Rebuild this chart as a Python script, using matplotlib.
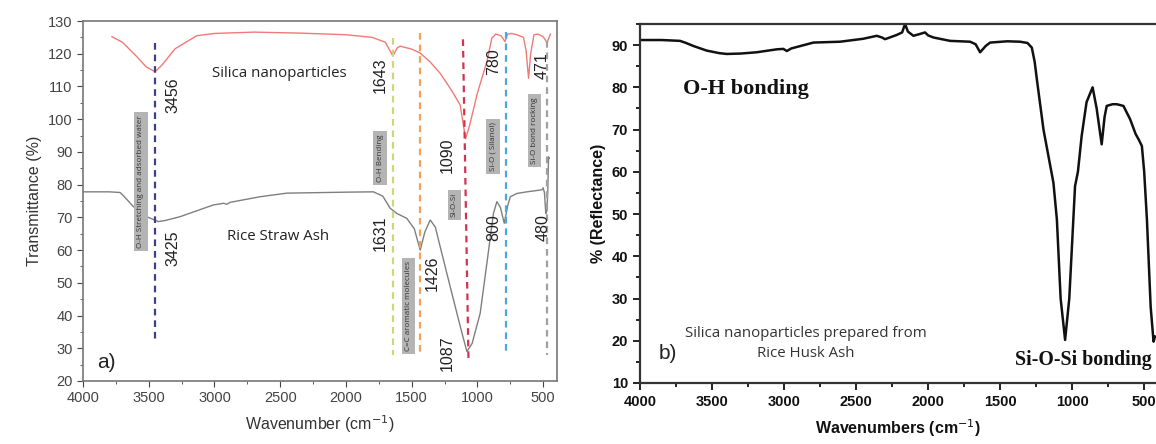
import matplotlib
matplotlib.use('Agg')
import matplotlib.pyplot as plt
from matplotlib.ticker import MultipleLocator

# ---- panel a) FTIR of silica nanoparticles and rice straw ash ----
silica_wn = [3780, 3700, 3600, 3520, 3452, 3400, 3300, 3135, 3000, 2700, 2349, 2000, 1800,
             1700, 1643, 1610, 1587, 1500, 1435, 1360, 1283, 1200, 1131, 1090, 1060, 1000,
             928, 890, 860, 820, 790, 770, 740, 700, 650, 630, 611, 595, 570, 540, 500,
             480, 471, 460, 445]
silica_t = [125.2, 123.5, 119.5, 116.0, 114.5, 116.5, 121.5, 125.5, 126.2, 126.6, 126.3, 125.8,
            125.0, 123.5, 119.3, 121.8, 122.3, 121.4, 120.2, 117.5, 114.0, 109.0, 104.3, 94.0,
            98.0, 108.0, 117.6, 124.8, 126.0, 125.5, 123.7, 126.0, 126.2, 125.8, 125.0, 121.0,
            112.5, 120.0, 125.8, 126.0, 125.2, 124.0, 123.3, 124.5, 126.0]

ash_wn = [4000, 3800, 3718, 3690, 3617, 3515, 3427, 3380, 3262, 3100, 3008, 2930, 2906, 2880,
          2653, 2450, 2000, 1791, 1720, 1664, 1613, 1537, 1480, 1435, 1400, 1359, 1320, 1283,
          1207, 1156, 1110, 1080, 1040, 979, 928, 878, 852, 825, 796, 770, 750, 700, 624, 510,
          500, 490, 480, 471, 465, 459, 455]
ash_t = [77.8, 77.8, 77.6, 76.5, 73.3, 70.2, 68.7, 69.0, 70.2, 72.5, 73.8, 74.3, 74.0, 74.6,
         76.3, 77.4, 77.7, 77.8, 76.5, 72.8, 71.2, 69.7, 66.5, 60.0, 65.5, 69.2, 67.0, 61.0,
         48.8, 40.7, 33.5, 29.0, 31.5, 40.7, 56.0, 71.2, 74.8, 73.0, 68.2, 73.5, 76.3, 77.3, 77.8,
         78.4, 79.0, 77.5, 71.2, 72.0, 78.0, 88.5, 88.0]

# peak marker lines: (wavenumber top, wavenumber bottom, top value, bottom value, colour)
peak_lines = [(3456, 3456, 123.4, 32.0, '#3c3f8c'),
              (1643, 1643, 124.8, 28.0, '#cfd67a'),
              (1435, 1435, 126.4, 28.0, '#f4a15a'),
              (1110, 1068, 124.4, 26.5, '#d2334f'),
              (785, 785, 126.6, 28.0, '#4aa8de'),
              (471, 471, 124.0, 28.0, '#a0a0a0')]

peak_numbers = ['3456', '3425', '1643', '1631', '1426', '1090', '1087', '780', '800', '471', '480']
peak_num_x = [3313, 3313, 1740, 1740, 1346, 1232, 1232, 878, 878, 510, 497]
peak_num_y = [107.4, 60.6, 113.5, 65.2, 53.0, 89.0, 28.5, 117.6, 67.0, 116.5, 67.0]

band_names = ['O-H Stretching and adsorbed water', 'O-H Bending', 'C=C aromatic molecules',
              'Si-O-Si', 'Si-O ( Silanol)', 'Si-O bond rocking']
band_x = [3559, 1740, 1524, 1174, 882, 567]
band_y = [81.0, 88.0, 43.0, 73.8, 91.6, 96.4]

# ---- panel b) silica from rice husk ash ----
husk_wn = [4000, 3850, 3722, 3680, 3630, 3537, 3450, 3398, 3300, 3190, 3050, 3005, 2980, 2950,
           2796, 2611, 2450, 2356, 2320, 2299, 2250, 2218, 2180, 2160, 2140, 2102, 2060, 2021,
           2000, 1963, 1847, 1708, 1670, 1639, 1600, 1569, 1450, 1361, 1310, 1280, 1260, 1245,
           1199, 1130, 1106, 1080, 1049, 1020, 980, 960, 934, 900, 858, 830, 795, 775, 760, 720,
           690, 644, 597, 560, 539, 516, 500, 481, 455, 435, 425]
husk_r = [91.2, 91.2, 91.0, 90.5, 89.8, 88.7, 88.1, 87.9, 88.0, 88.3, 89.0, 89.1, 88.6, 89.2,
          90.6, 90.8, 91.5, 92.2, 91.8, 91.4, 92.0, 92.4, 93.0, 95.0, 93.2, 92.2, 92.6, 93.0, 92.3,
          91.8, 91.0, 90.8, 90.2, 88.3, 89.8, 90.6, 90.9, 90.8, 90.5, 89.4, 86.0, 81.9, 70.0,
          57.4, 48.7, 30.0, 20.2, 30.0, 56.6, 60.0, 68.5, 76.5, 80.0, 75.0, 66.5, 73.0, 75.6, 76.0,
          76.0, 75.6, 72.4, 69.0, 67.7, 66.1, 60.0, 48.7, 28.0, 19.8, 21.0]

fig = plt.figure(figsize=(11.56, 4.44), dpi=100)

# ---------------- panel a ----------------
ax1 = fig.add_axes([0.0718, 0.1419, 0.41, 0.8108])
tick_col = '#444444'
ax1.plot(silica_wn, silica_t, color='#f07a78', linewidth=1.0)
ax1.plot(ash_wn, ash_t, color='#7f7f7f', linewidth=1.0)

for xt, xb, yt, yb, c in peak_lines:
    ax1.plot([xt, xb], [yt, yb], color=c, linestyle=(0, (3, 2.2)), linewidth=1.6)

for txt, x, y in zip(peak_numbers, peak_num_x, peak_num_y):
    ax1.text(x, y, txt, rotation=90, ha='center', va='center', fontsize=11.5,
             family='Liberation Sans', color='#222222')

for txt, x, y in zip(band_names, band_x, band_y):
    ax1.text(x, y, txt, rotation=90, ha='center', va='center', fontsize=5.8,
             family='Open Sans', color='#333333',
             bbox=dict(boxstyle='square,pad=0.4', facecolor='#b4b4b4', edgecolor='none'))

ax1.text(3021, 114, 'Silica nanoparticles', fontsize=10.8, family='Open Sans',
         color='#222222', va='center')
ax1.text(2907, 64.1, 'Rice Straw Ash', fontsize=10.8, family='Open Sans',
         color='#222222', va='center')
ax1.text(3890, 25.5, 'a)', fontsize=15, family='Liberation Sans', color='#222222', va='center')

ax1.set_xlim(4000, 395)
ax1.set_ylim(20, 130)
ax1.xaxis.set_major_locator(MultipleLocator(500))
ax1.xaxis.set_minor_locator(MultipleLocator(250))
ax1.yaxis.set_major_locator(MultipleLocator(10))
ax1.yaxis.set_minor_locator(MultipleLocator(5))
ax1.tick_params(which='both', direction='out', colors=tick_col, labelsize=10.5,
                top=False, right=False)
ax1.tick_params(which='major', length=4)
ax1.tick_params(which='minor', length=2.5)
for lab in ax1.get_xticklabels() + ax1.get_yticklabels():
    lab.set_family('Liberation Sans')
for sp in ax1.spines.values():
    sp.set_color('#777777')
    sp.set_linewidth(1.2)
ax1.set_xlabel('Wavenumber (cm$^{-1}$)', fontsize=11.5, family='Liberation Sans',
               color='#333333', labelpad=6)
ax1.set_ylabel('Transmittance (%)', fontsize=11.5, family='Liberation Sans',
               color='#333333', labelpad=4)

# ---------------- panel b ----------------
ax2 = fig.add_axes([0.5536, 0.1374, 0.4464, 0.8086])
ax2.plot(husk_wn, husk_r, color='#111111', linewidth=1.8)
ax2.text(3699, 79.5, 'O-H bonding', fontsize=16, family='Liberation Serif',
         fontweight='bold', color='#111111', va='center')
ax2.text(1400, 15.4, 'Si-O-Si bonding', fontsize=14.3, family='Liberation Serif',
         fontweight='bold', color='#111111', va='center')
ax2.text(2846, 21.8, 'Silica nanoparticles prepared from', fontsize=10.8, family='Open Sans',
         color='#333333', ha='center', va='center')
ax2.text(2846, 17.0, 'Rice Husk Ash', fontsize=10.8, family='Open Sans',
         color='#333333', ha='center', va='center')
ax2.text(3870, 17.0, 'b)', fontsize=15, family='Liberation Sans', color='#222222', va='center')

ax2.set_xlim(4000, 418)
ax2.set_ylim(10, 95)
ax2.xaxis.set_major_locator(MultipleLocator(500))
ax2.xaxis.set_minor_locator(MultipleLocator(250))
ax2.yaxis.set_major_locator(MultipleLocator(10))
ax2.yaxis.set_minor_locator(MultipleLocator(5))
ax2.tick_params(which='both', direction='out', colors='#111111', labelsize=10.5,
                top=False, right=False, width=1.3)
ax2.tick_params(which='major', length=5)
ax2.tick_params(which='minor', length=3)
for lab in ax2.get_xticklabels() + ax2.get_yticklabels():
    lab.set_family('Liberation Sans')
    lab.set_fontweight('bold')
ax2.spines['right'].set_visible(False)
for sp in ['left', 'bottom', 'top']:
    ax2.spines[sp].set_color('#333333')
    ax2.spines[sp].set_linewidth(1.6)
ax2.set_xlabel('Wavenumbers (cm$^{-1}$)', fontsize=11.5, family='Liberation Sans',
               fontweight='bold', color='#111111', labelpad=6)
ax2.set_ylabel('% (Reflectance)', fontsize=11.5, family='Liberation Sans',
               fontweight='bold', color='#111111', labelpad=4)

fig.savefig('out.png', dpi=100)
